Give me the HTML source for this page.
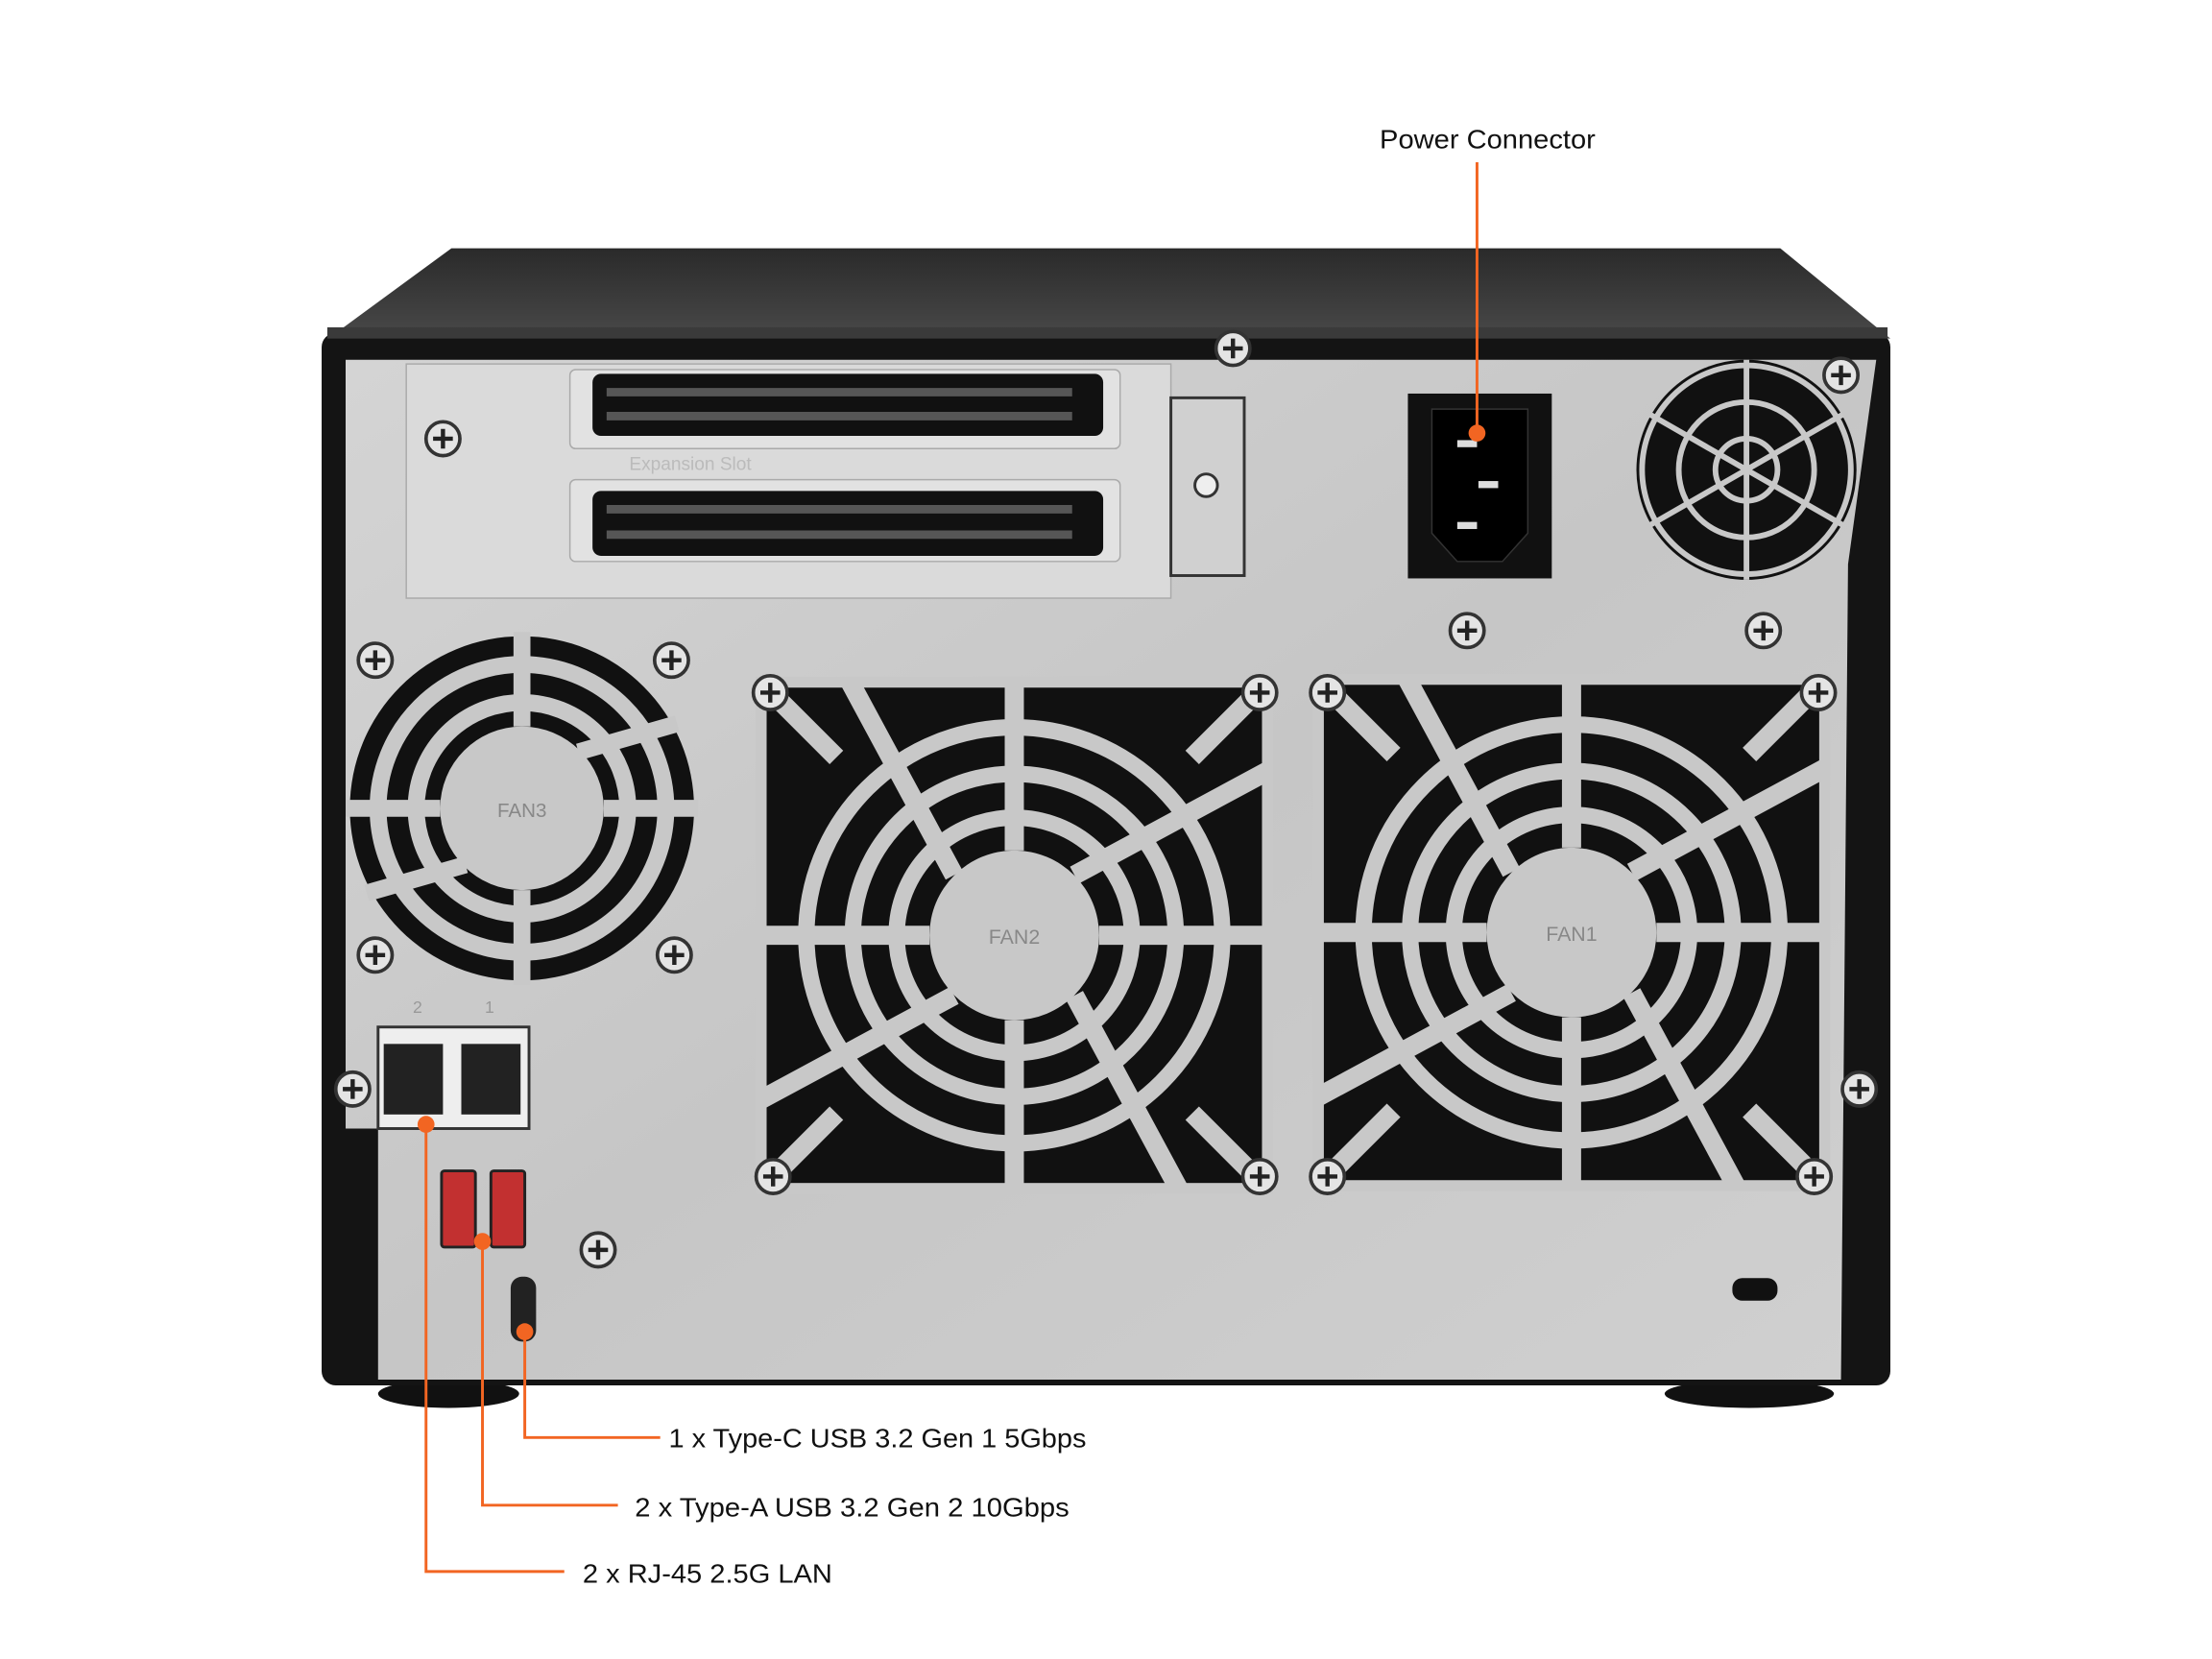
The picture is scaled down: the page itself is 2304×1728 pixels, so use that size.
<!DOCTYPE html>
<html><head><meta charset="utf-8"><style>
html,body{margin:0;padding:0;background:#fff;}
svg{display:block;}
text{font-family:"Liberation Sans",sans-serif;}
</style></head><body>
<svg width="2304" height="1728" viewBox="0 0 1568 1176" xmlns="http://www.w3.org/2000/svg">
<defs>
<linearGradient id="top" x1="0" y1="0" x2="0" y2="1"><stop offset="0" stop-color="#2a2a2a"/><stop offset="1" stop-color="#4a4a4a"/></linearGradient>
<linearGradient id="silver" x1="0" y1="0" x2="1" y2="1"><stop offset="0" stop-color="#d4d4d4"/><stop offset="0.5" stop-color="#c6c6c6"/><stop offset="1" stop-color="#d0d0d0"/></linearGradient>
<g id="screw"><circle r="12" fill="#e4e4e4" stroke="#333" stroke-width="2.5"/><path d="M-7 0H7M0 -7V7" stroke="#222" stroke-width="3"/></g>
<g id="fanbig">
<rect x="-185" y="-185" width="370" height="370" fill="#111"/>
<circle r="152" fill="none" stroke="#c8c8c8" stroke-width="12"/>
<circle r="118" fill="none" stroke="#c8c8c8" stroke-width="12"/>
<circle r="86" fill="none" stroke="#c8c8c8" stroke-width="12"/>
<circle r="62" fill="#c8c8c8"/>
<g stroke="#c8c8c8" stroke-width="14">
<path d="M-185 -185L-130 -130M185 -185L130 -130M-185 185L-130 130M185 185L130 130"/>
<path d="M0 -62V-185M0 62V185M-62 0H-185M62 0H185"/>
<path d="M44 -44L185 -120M-44 44L-185 120M44 44L120 185M-44 -44L-120 -185"/>
</g>
<rect x="-185" y="-185" width="370" height="370" fill="none" stroke="#c8c8c8" stroke-width="8"/>
</g>
</defs>
<rect width="1568" height="1176" fill="#fff"/>
<ellipse cx="318" cy="988" rx="50" ry="10" fill="#111"/>
<ellipse cx="1240" cy="988" rx="60" ry="10" fill="#111"/>
<path d="M230 242 L320 176 L1262 176 L1340 240 Z" fill="url(#top)"/>
<rect x="228" y="236" width="1112" height="746" rx="10" fill="#141414"/>
<rect x="232" y="232" width="1106" height="8" fill="#3a3a3a"/>
<path d="M245 255 L1330 255 L1310 400 L1305 978 L268 978 L268 800 L245 800 Z" fill="url(#silver)"/>
<rect x="288" y="258" width="542" height="166" fill="#dadada" stroke="#aaa"/>
<rect x="830" y="282" width="52" height="126" fill="#d0d0d0" stroke="#333" stroke-width="2"/>
<circle cx="855" cy="344" r="8" fill="#eee" stroke="#333" stroke-width="2"/>
<rect x="404" y="262" width="390" height="56" rx="4" fill="#e2e2e2" stroke="#aaa"/>
<rect x="404" y="340" width="390" height="58" rx="4" fill="#e2e2e2" stroke="#aaa"/>
<rect x="420" y="265" width="362" height="44" rx="6" fill="#111"/>
<rect x="420" y="348" width="362" height="46" rx="6" fill="#111"/>
<g fill="#d8d8d8">
<path d="M430 275h330v6h-330zM430 292h330v6h-330zM430 358h330v6h-330zM430 376h330v6h-330z" opacity="0.35"/>
</g>
<text x="446" y="333" font-size="13" fill="#bbb">Expansion Slot</text>
<rect x="998" y="279" width="102" height="131" fill="#111"/>
<path d="M1015 290 H1083 V378 L1065 398 H1033 L1015 378 Z" fill="#000" stroke="#333"/>
<rect x="1033" y="312" width="14" height="5" fill="#ddd"/>
<rect x="1048" y="341" width="14" height="5" fill="#ddd"/>
<rect x="1033" y="370" width="14" height="5" fill="#ddd"/>
<circle cx="1238" cy="333" r="78" fill="#111"/>
<g fill="none" stroke="#c8c8c8" stroke-width="4">
<circle cx="1238" cy="333" r="22"/><circle cx="1238" cy="333" r="48"/><circle cx="1238" cy="333" r="74"/>
<path d="M1238 255V411M1170 294L1306 372M1170 372L1306 294"/>
</g>
<g transform="translate(370 573)">
<circle r="122" fill="#111"/>
<circle r="102" fill="none" stroke="#c8c8c8" stroke-width="12"/>
<circle r="75" fill="none" stroke="#c8c8c8" stroke-width="12"/>
<circle r="58" fill="#c8c8c8"/>
<g stroke="#c8c8c8" stroke-width="12"><path d="M0 -58V-125M0 58V125M-58 0H-125M58 0H125M40 -40L110 -60M-40 40L-110 60"/></g>
<text x="0" y="6" font-size="14" fill="#888" text-anchor="middle">FAN3</text>
</g>
<g transform="translate(719 663) scale(0.97)"><use href="#fanbig"/><text x="0" y="6" font-size="15" fill="#888" text-anchor="middle">FAN2</text></g>
<g transform="translate(1114 661) scale(0.97)"><use href="#fanbig"/><text x="0" y="6" font-size="15" fill="#888" text-anchor="middle">FAN1</text></g>
<use href="#screw" x="314" y="311"/><use href="#screw" x="874" y="247"/>
<use href="#screw" x="266" y="468"/><use href="#screw" x="476" y="468"/>
<use href="#screw" x="266" y="677"/><use href="#screw" x="478" y="677"/>
<use href="#screw" x="546" y="491"/><use href="#screw" x="893" y="491"/>
<use href="#screw" x="941" y="491"/><use href="#screw" x="1289" y="491"/>
<use href="#screw" x="548" y="834"/><use href="#screw" x="893" y="834"/>
<use href="#screw" x="941" y="834"/><use href="#screw" x="1286" y="834"/>
<use href="#screw" x="424" y="886"/><use href="#screw" x="250" y="772"/>
<use href="#screw" x="1318" y="772"/><use href="#screw" x="1040" y="447"/>
<use href="#screw" x="1250" y="447"/><use href="#screw" x="1305" y="266"/>
<rect x="268" y="728" width="107" height="72" fill="#eee" stroke="#333" stroke-width="2"/>
<rect x="272" y="740" width="42" height="50" fill="#222"/>
<rect x="327" y="740" width="42" height="50" fill="#222"/>
<text x="296" y="718" font-size="12" fill="#999" text-anchor="middle">2</text>
<text x="347" y="718" font-size="12" fill="#999" text-anchor="middle">1</text>
<rect x="313" y="830" width="24" height="54" rx="2" fill="#c23030" stroke="#222" stroke-width="2"/>
<rect x="348" y="830" width="24" height="54" rx="2" fill="#c23030" stroke="#222" stroke-width="2"/>
<rect x="362" y="905" width="18" height="46" rx="8" fill="#222"/>
<rect x="1228" y="906" width="32" height="16" rx="7" fill="#111"/>
<g stroke="#f26522" stroke-width="2" fill="none">
<path d="M1047 307V115"/>
<path d="M372 944V1019H468"/>
<path d="M342 880V1067H438"/>
<path d="M302 797V1114H400"/>
</g>
<g fill="#f26522">
<circle cx="1047" cy="307" r="6"/><circle cx="372" cy="944" r="6"/><circle cx="342" cy="880" r="6"/><circle cx="302" cy="797" r="6"/>
</g>
<g font-size="19" fill="#111">
<text x="978" y="105" textLength="153" lengthAdjust="spacingAndGlyphs">Power Connector</text>
<text x="474" y="1026" textLength="296" lengthAdjust="spacingAndGlyphs">1 x Type-C USB 3.2 Gen 1 5Gbps</text>
<text x="450" y="1075" textLength="308" lengthAdjust="spacingAndGlyphs">2 x Type-A USB 3.2 Gen 2 10Gbps</text>
<text x="413" y="1122" textLength="177" lengthAdjust="spacingAndGlyphs">2 x RJ-45 2.5G LAN</text>
</g>
</svg>
</body></html>
